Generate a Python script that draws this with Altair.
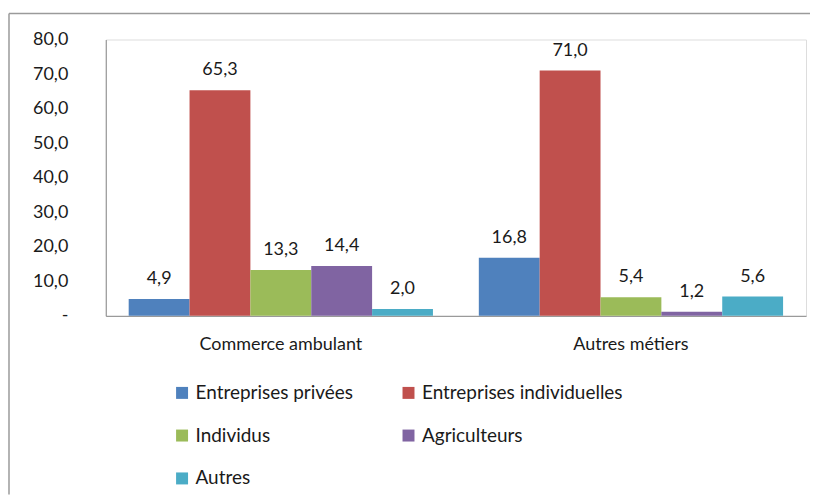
import altair as alt
import pandas as pd

categories = ["Commerce ambulant", "Autres métiers"]
series = ["Entreprises privées", "Entreprises individuelles", "Individus", "Agriculteurs", "Autres"]
colors = ["#4F81BD", "#C0504D", "#9BBB59", "#8064A2", "#4BACC6"]
values_commerce = [4.9, 65.3, 13.3, 14.4, 2.0]
values_autres = [16.8, 71.0, 5.4, 1.2, 5.6]

rows = []
for s, v1, v2 in zip(series, values_commerce, values_autres):
    rows.append({"cat": categories[0], "serie": s, "value": v1})
    rows.append({"cat": categories[1], "serie": s, "value": v2})
df = pd.DataFrame(rows)

FONT = "Lato"
AXIS_GREY = "#8c8c8c"
TXT = "#1a1a1a"

x_enc = alt.X(
    "cat:N",
    sort=categories,
    title=None,
    scale=alt.Scale(paddingInner=0.131, paddingOuter=0.0655),
    axis=alt.Axis(labelAngle=0, ticks=False, domainColor=AXIS_GREY, labelFontSize=18,
                  labelFont=FONT, labelColor=TXT, labelPadding=20),
)
xo_enc = alt.XOffset("serie:N", sort=series, scale=alt.Scale(paddingInner=0, paddingOuter=0))
y_enc = alt.Y(
    "value:Q",
    title=None,
    scale=alt.Scale(domain=[0, 80], nice=False),
    axis=alt.Axis(values=[0, 10, 20, 30, 40, 50, 60, 70, 80], grid=False, ticks=False,
                  domainColor=AXIS_GREY, labelFontSize=18, labelFont=FONT, labelColor=TXT,
                  labelPadding=38,
                  labelExpr="datum.value == 0 ? '-\u00a0\u00a0\u00a0\u00a0' : replace(format(datum.value, '.1f'), '.', ',')"),
)

base = alt.Chart(df)

bars = base.mark_bar().encode(
    x=x_enc,
    xOffset=xo_enc,
    y=y_enc,
    color=alt.Color(
        "serie:N",
        sort=series,
        scale=alt.Scale(domain=series, range=colors),
        legend=alt.Legend(
            title=None, orient="none", legendX=67, legendY=344.5, columns=2,
            direction="horizontal",
            symbolType="square", symbolSize=144, symbolStrokeWidth=0,
            labelFontSize=19, labelFont=FONT, labelColor=TXT, labelOffset=4,
            rowPadding=23, columnPadding=46, padding=0, labelLimit=400,
        ),
    ),
)

text = base.transform_calculate(
    label="replace(format(datum.value, '.1f'), '.', ',')"
).mark_text(baseline="alphabetic", dy=-15, fontSize=18, font=FONT, color=TXT).encode(
    x=x_enc,
    xOffset=xo_enc,
    y=y_enc,
    text="label:N",
)

dummy = pd.DataFrame({"a": [0]})
left_border = alt.Chart(dummy).mark_rule(color="#9a9a9a", strokeWidth=1.5).encode(
    x=alt.value(-97), y=alt.value(-26), y2=alt.value(456)
)
top_border = alt.Chart(dummy).mark_rule(color="#9a9a9a", strokeWidth=1.5).encode(
    y=alt.value(-26), x=alt.value(-97), x2=alt.value(706)
)

chart = alt.layer(bars, text, left_border, top_border).properties(
    width=702, height=277, padding={"left": 0, "top": 4, "right": 0, "bottom": 0}
).configure_view(stroke=None).configure(background="white")

chart.save("out.html", embed_options={"renderer": "svg", "actions": False})
